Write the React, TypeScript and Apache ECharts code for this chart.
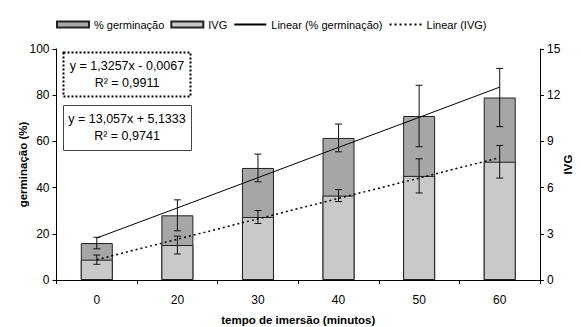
import React, { useEffect, useRef } from "react";
import * as echarts from "echarts";

const categories = ["0", "20", "30", "40", "50", "60"];
const germinacao = [16, 28, 48.5, 61.5, 71, 79];
const germinacaoErr = [2.5, 6.7, 6, 6, 13.3, 12.6];
const ivg = [1.32, 2.27, 4.09, 5.48, 6.76, 7.68];
const ivgErr = [0.3, 0.58, 0.42, 0.39, 1.11, 1.06];
const germTrend = [18.2, 31.2, 44.3, 57.4, 70.4, 83.5];
const ivgTrend = [1.32, 2.65, 3.97, 5.3, 6.62, 7.95];
const eqIvg = ["y = 1,3257x - 0,0067", "R² = 0,9911"];
const eqGerm = ["y = 13,057x + 5,1333", "R² = 0,9741"];

const FONT = "'Liberation Sans', Arial, sans-serif";

function errData(vals: number[], errs: number[]) {
  return vals.map((v, i) => [i, v - errs[i], v + errs[i]]);
}

function errRender(params: any, api: any) {
  const x = api.value(0);
  const lo = api.coord([x, api.value(1)]);
  const hi = api.coord([x, api.value(2)]);
  const h = 3.5;
  const st = { stroke: "#111", lineWidth: 1 };
  return {
    type: "group",
    children: [
      { type: "line", shape: { x1: lo[0], y1: lo[1], x2: hi[0], y2: hi[1] }, style: st },
      { type: "line", shape: { x1: lo[0] - h, y1: lo[1], x2: lo[0] + h, y2: lo[1] }, style: st },
      { type: "line", shape: { x1: hi[0] - h, y1: hi[1], x2: hi[0] + h, y2: hi[1] }, style: st },
    ],
  };
}

export default function App() {
  const ref = useRef<HTMLDivElement>(null);
  useEffect(() => {
    if (!ref.current) return;
    const chart = echarts.init(ref.current, null, { renderer: "svg" });
    const axisLine = { show: true, lineStyle: { color: "#000", width: 1 } };
    const boxText = (t: string, x: number, y: number) => ({
      type: "text",
      x,
      y,
      style: { text: t, fontFamily: FONT, fontSize: 12.5, fill: "#000", align: "center", verticalAlign: "middle" },
      z: 11,
    });
    const option: any = {
      animation: false,
      backgroundColor: "#fff",
      textStyle: { fontFamily: FONT, color: "#000" },
      legend: {
        left: 51,
        top: 14,
        itemWidth: 32,
        itemHeight: 6,
        itemGap: 6,
        textStyle: { fontFamily: FONT, fontSize: 11, color: "#000" },
        data: [
          { name: "% germinação", icon: "rect" },
          { name: "IVG", icon: "rect" },
          { name: "Linear (% germinação)", itemStyle: { opacity: 0 } },
          { name: "Linear (IVG)", itemStyle: { opacity: 0 } },
        ],
      },
      grid: { left: 56.5, right: 41, top: 49, height: 231, outerBoundsMode: "none", containLabel: false },
      xAxis: {
        type: "category",
        data: categories,
        axisLine,
        axisTick: { show: true, inside: false, length: 4, alignWithLabel: false, lineStyle: { color: "#000" } },
        axisLabel: { fontFamily: FONT, fontSize: 12, color: "#000", margin: 14 },
        name: "tempo de imersão (minutos)",
        nameLocation: "middle",
        nameGap: 34,
        nameMoveOverlap: false,
        nameTextStyle: { fontFamily: FONT, fontSize: 11.5, fontWeight: "bold", color: "#000" },
      },
      yAxis: [
        {
          type: "value",
          min: 0,
          max: 100,
          interval: 20,
          axisLine,
          axisTick: { show: true, length: 4, lineStyle: { color: "#000" } },
          splitLine: { show: false },
          axisLabel: { fontFamily: FONT, fontSize: 12, color: "#000", margin: 7 },
          name: "germinação (%)",
          nameLocation: "middle",
          nameGap: 28,
          nameMoveOverlap: false,
          nameTextStyle: { fontFamily: FONT, fontSize: 11.5, fontWeight: "bold", color: "#000" },
        },
        {
          type: "value",
          min: 0,
          max: 15,
          interval: 3,
          position: "right",
          axisLine,
          axisTick: { show: true, length: 4, lineStyle: { color: "#000" } },
          splitLine: { show: false },
          axisLabel: { fontFamily: FONT, fontSize: 12, color: "#000", margin: 7 },
          name: "IVG",
          nameLocation: "middle",
          nameGap: 22,
          nameMoveOverlap: false,
          nameTextStyle: { fontFamily: FONT, fontSize: 11.5, fontWeight: "bold", color: "#000" },
        },
      ],
      series: [
        {
          name: "% germinação",
          type: "bar",
          yAxisIndex: 0,
          data: germinacao,
          barWidth: 32,
          barGap: "-100%",
          itemStyle: { color: "#a6a6a6", borderColor: "#222", borderWidth: 1 },
        },
        {
          name: "IVG",
          type: "bar",
          yAxisIndex: 1,
          data: ivg,
          barWidth: 32,
          barGap: "-100%",
          itemStyle: { color: "#c9c9c9", borderColor: "#222", borderWidth: 1 },
        },
        {
          name: "Linear (% germinação)",
          type: "line",
          yAxisIndex: 0,
          data: germTrend,
          symbol: "none",
          lineStyle: { color: "#000", width: 1 },
          z: 5,
        },
        {
          name: "Linear (IVG)",
          type: "line",
          yAxisIndex: 1,
          data: ivgTrend,
          symbol: "none",
          lineStyle: { color: "#000", width: 1.5, type: [2, 3] },
          z: 5,
        },
        {
          name: "errGerm",
          type: "custom",
          yAxisIndex: 0,
          data: errData(germinacao, germinacaoErr),
          encode: { x: 0, y: [1, 2] },
          renderItem: errRender,
          z: 6,
        },
        {
          name: "errIvg",
          type: "custom",
          yAxisIndex: 1,
          data: errData(ivg, ivgErr),
          encode: { x: 0, y: [1, 2] },
          renderItem: errRender,
          z: 6,
        },
      ],
      graphic: [
        {
          type: "rect",
          shape: { x: 63.5, y: 52.5, width: 127, height: 44 },
          style: { fill: "#fff", stroke: "#000", lineWidth: 2, lineDash: [2, 2] },
          z: 10,
        },
        boxText(eqIvg[0], 127, 66),
        boxText(eqIvg[1], 127, 83),
        {
          type: "rect",
          shape: { x: 63.5, y: 105.5, width: 128, height: 45 },
          style: { fill: "#fff", stroke: "#444", lineWidth: 1 },
          z: 10,
        },
        boxText(eqGerm[0], 127, 119),
        boxText(eqGerm[1], 127, 136),
      ],
    };
    chart.setOption(option);
    return () => chart.dispose();
  }, []);
  return (
    <div
      ref={ref}
      style={{ position: "absolute", left: 0, top: 0, width: 581, height: 327, background: "#fff" }}
    />
  );
}
